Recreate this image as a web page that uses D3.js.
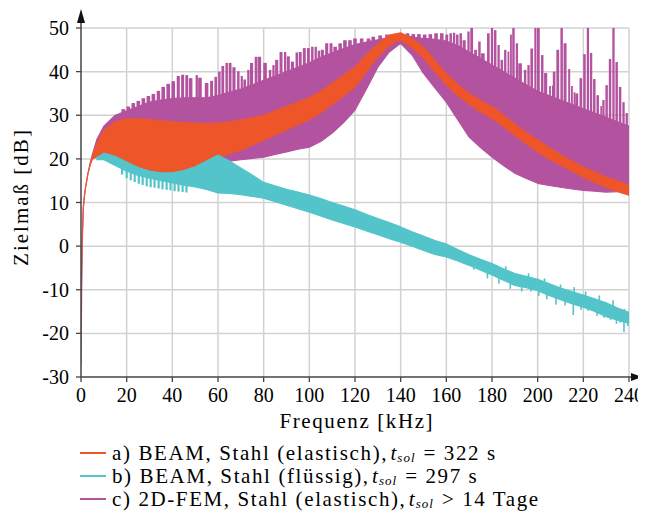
<!DOCTYPE html>
<meta charset="utf-8">
<svg width="638" height="504"></svg>
<script src="https://d3js.org/d3.v7.min.js"></script>
<script>
// frequency grid [kHz] for the band envelopes
var freq = [0, 0.3, 0.6, 1, 1.5, 2, 3, 4, 5, 7, 10,
  15, 20, 25, 30, 35, 40, 45, 50, 55, 60, 65, 70, 75, 80, 85, 90, 95, 100, 105, 110,
  115, 120, 125, 130, 135, 140, 145, 150, 155, 160, 165, 170, 175, 180, 185, 190, 195, 200, 205, 210,
  215, 220, 225, 230, 235, 240];

// a) BEAM, Stahl (elastisch)
var redHi = [-16, -4, 3, 8.7, 11.5, 13.5, 16.5, 18.7, 20.5, 23.5, 26.5,
  28.5, 29.2, 29.2, 29, 28.8, 28.5, 28.3, 28.2, 28.1, 28.2, 28.5, 28.9, 29.4, 30, 31, 32, 33, 34, 35.5, 37.3,
  39.2, 41, 43.8, 46.3, 48.4, 48.9, 47.6, 45.6, 42.5, 39.5, 37, 35, 33.3, 32, 30, 28, 26, 24.3, 22.6, 21,
  19.5, 18.1, 17, 15.8, 14.9, 14];
var redLo = [-16, -4, 3, 8.7, 11.5, 13.5, 16.5, 18.7, 20, 20.5, 20.3,
  19.5, 18.3, 17.3, 16.7, 16.3, 16.3, 16.8, 17.7, 18.8, 20.2, 21.2, 22, 23.2, 24.3, 25.5, 26.7, 27.9, 29, 30.6, 32.5,
  34.4, 36.5, 40, 43.4, 46, 47.3, 45.5, 43.2, 40, 37, 34.5, 32.5, 30.8, 29.3, 27.4, 25.4, 23.5, 21.6, 20, 18.6,
  17.2, 15.8, 14.6, 13.5, 12.5, 11.7];

// b) BEAM, Stahl (flüssig)
var cyanHi = [null, null, null, null, null, null, null, null, null, 20.3, 21.3,
  20.6, 19.3, 18, 17.2, 16.8, 16.8, 17.3, 18.2, 19.5, 20.9, 19.5, 17.9, 16.3, 14.6, 13.8, 13, 12.4, 11.7, 10.9, 10,
  9.2, 8.3, 7.3, 6.3, 5.4, 4.4, 3.3, 2.3, 1.3, 0.5, -0.8, -2, -3, -4, -5.2, -6.3, -6.9, -7.6, -8.6, -9.6,
  -10.4, -11.2, -12.1, -13, -14.2, -15.2];
var cyanLo = [null, null, null, null, null, null, null, null, null, 19.8, 19.8,
  18.5, 17.2, 16.2, 15.6, 15, 14.5, 14, 13.6, 13, 12.2, 12.1, 11.8, 11.4, 11, 10.2, 9.4, 8.6, 7.8, 6.9, 6,
  5.2, 4.4, 3.5, 2.6, 1.7, 0.9, 0, -1, -1.9, -2.5, -3.4, -4.4, -5.5, -6.6, -7.8, -9, -9.5, -10.2, -11.3, -12.3,
  -13.2, -14, -15, -16.2, -17, -17.7];
// downward teeth / dips of b)
var cyanSpikeF = [18, 20, 21.8, 23.5, 25.3, 27, 28.8, 30.5, 32.2, 34, 35.7, 37.5, 39.2, 41, 42.7, 44.5, 46.2,
  172, 178, 183, 188, 193, 197, 200.5, 204, 208, 212, 215.6, 219, 222, 226, 229, 232, 234.5, 236, 237.8, 239.5];
var cyanSpikeV = [16.4, 15.6, 15.1, 14.7, 14.3, 14, 13.7, 13.5, 13.4, 13.2, 13, 12.9, 12.8, 12.6, 12.5, 12.4, 12.3,
  -5.4, -7.4, -8.6, -9.8, -10.4, -10.4, -11.4, -12.2, -13.4, -13.6, -15.8, -14.6, -14.8, -16, -16.4, -16.9, -17.8, -17.5, -19.7, -18.3];
// upward jitter of b) on the right side
var cyanBumpF = [176, 186, 196, 203, 210, 216, 221, 227, 233, 238];
var cyanBumpV = [-3.2, -4.6, -6.2, -7.4, -8.8, -9.4, -10.4, -11.3, -12.4, -14.4];

// c) 2D-FEM, Stahl (elastisch)
var purpleHi = [-27, -10, 1, 8.7, 11.5, 13.5, 16.5, 19, 21, 24.5, 27.5,
  30, 31, 32, 33, 33.5, 33.8, 34, 34, 34, 34.5, 35.3, 36, 37, 38, 39, 40, 41, 42, 43.3, 44.3,
  45.3, 46.2, 46.8, 47.3, 47.8, 48.4, 48, 47.6, 47.4, 47, 46, 44.5, 43, 41.5, 40, 38.5, 37, 35.5, 34.5, 33.5,
  32.5, 31.5, 30.5, 29.5, 28.5, 27.5];
var purpleLo = [-27, -10, 1, 8.7, 11.5, 13.5, 16.5, 18.7, 20, 21, 21,
  20.5, 19.5, 19, 18.5, 18.5, 18.5, 18.8, 19.2, 19.5, 19.3, 19.5, 19.8, 20.1, 20.4, 21, 21.6, 22.2, 22.7, 24, 25.9,
  28.3, 31.2, 36, 41, 44.5, 46.5, 43.8, 39.6, 36.3, 33, 29, 25, 22.6, 20.4, 18.5, 16.7, 15.5, 14.4, 13.9, 13.5,
  13.1, 12.8, 12.6, 12.4, 12.5, 13.5];
// resonance peaks of c)
var purpleSpikeF = [18.5, 20.7, 22.9, 25.1, 27.3, 29.5, 31.7, 33.9, 36, 38.2, 40.4, 42.6, 44.5, 46.3, 48, 50.7,
  52.1, 55, 57.2, 59, 60.6, 62.1, 63.8, 65.3, 67, 68.9, 70.4, 71.7, 73.3, 74.7, 76.6, 78.1,
  80.6, 82.8, 84.3, 85.7, 87.6, 89.4, 90.8, 92.6, 94.5, 96, 97.8, 99.6, 101.3, 102.8, 104.2, 105.7,
  107.6, 109.5, 111.3, 113.5, 115.6, 117.8, 120, 122.9, 125.9, 128, 131, 134, 143, 145.5, 148, 150.5, 153, 155.5,
  158, 160.2, 161.9, 163.4, 164.8, 166.3, 167.8, 169.7, 171.1, 172.8, 174.5, 176, 178.4, 180, 181.4,
  182.9, 184.3, 185.8, 187.2, 188.3, 189.4, 190.9, 192.3, 194.5, 196, 197.4, 199, 200.3,
  202, 203.5, 205.4, 206.5, 207.2, 208.8, 210.5, 212, 213.8, 215, 216.1, 217.1, 218.9, 220.5, 222,
  223.4, 224.8, 226.3, 227.8, 228.8, 230.2, 231.7, 233.2, 234.6, 236.1, 237.6, 239];
var purpleSpikeV = [31.4, 32, 32.8, 33.3, 33.9, 34.4, 34.9, 35.6, 36.5, 37.2, 37.8, 39, 39.3, 39.2, 38.5, 39.2,
  38.6, 37.4, 37.9, 38.8, 40, 41.3, 42, 42, 41, 40.1, 39, 38.2, 40.4, 42, 43.4, 43.4,
  42, 40.4, 41.5, 42.7, 44.5, 44.5, 43.5, 42.3, 44.4, 44.5, 45.4, 45.4, 45.7, 45.7, 44.8, 45,
  46.5, 46.5, 45.7, 46.5, 47.2, 47.2, 47.6, 47.6, 47.6, 48, 48.3, 48.5, 48.8, 48.6, 48.6, 48.5, 48.6, 48.8,
  48.8, 48.5, 48.8, 48.9, 48.5, 48.8, 47.2, 49.2, 51, 45, 46.9, 44.2, 48.8, 51, 49.5,
  46.1, 42.7, 45, 44.6, 48.5, 51, 46.5, 41.9, 40.4, 41.5, 45.3, 51, 51,
  43.8, 39.7, 36.7, 36.8, 40, 45, 51, 46.5, 40.6, 36.7, 35.3, 35, 38.5, 44, 51,
  44.3, 38.3, 34.6, 32.1, 33.5, 36.9, 42.9, 51, 42.2, 36.5, 33, 30.5];

var xTicks = [0, 20, 40, 60, 80, 100, 120, 140, 160, 180, 200, 220, 240];
var yTicks = [-30, -20, -10, 0, 10, 20, 30, 40, 50];

var colRed = "#ee5629", colCyan = "#53c4ca", colPurple = "#b3529f";

// the page keeps its default 8px margin, so the drawing is shifted back by 8px
var svg = d3.select("svg").append("g").attr("transform", "translate(-8,-8)");

var x = d3.scaleLinear().domain([0, 240]).range([81, 629]);
var y = d3.scaleLinear().domain([-30, 50]).range([377, 28]);

// grid
svg.append("g").selectAll("line").data(xTicks.slice(1)).enter().append("line")
  .attr("x1", d => x(d)).attr("x2", d => x(d))
  .attr("y1", y(-30)).attr("y2", y(50))
  .attr("stroke", "#d2d2d2").attr("stroke-width", 1.5);
svg.append("g").selectAll("line").data(yTicks.slice(1)).enter().append("line")
  .attr("x1", x(0)).attr("x2", x(240))
  .attr("y1", d => y(d)).attr("y2", d => y(d))
  .attr("stroke", "#d2d2d2").attr("stroke-width", 1.5);

svg.append("clipPath").attr("id", "plot")
  .append("rect").attr("x", x(0)).attr("y", y(50)).attr("width", x(240) - x(0)).attr("height", y(-30) - y(50));

var data = svg.append("g").attr("clip-path", "url(#plot)");

function band(hi, lo, color) {
  var area = d3.area()
    .defined((d, i) => hi[i] != null)
    .x((d, i) => x(freq[i]))
    .y0((d, i) => y(lo[i]))
    .y1((d, i) => y(hi[i]));
  data.append("path")
    .datum(freq)
    .attr("d", area)
    .attr("fill", color)
    .attr("stroke", color)
    .attr("stroke-width", 1.2)
    .attr("stroke-linejoin", "round");
}

// bar width follows the spacing of neighbouring peaks
function barWidth(fs, i, share, maxW) {
  var j = i < fs.length - 1 ? i + 1 : i - 1;
  return Math.min(maxW, Math.abs(x(fs[j]) - x(fs[i])) * share);
}

// c) first, then a), b) on top
band(purpleHi, purpleLo, colPurple);
var purpleBase = d3.scaleLinear().domain(freq).range(purpleHi);
data.append("g").selectAll("rect").data(purpleSpikeF).enter().append("rect")
  .attr("x", (d, i) => x(d) - barWidth(purpleSpikeF, i, 0.72, 3.6) / 2)
  .attr("width", (d, i) => barWidth(purpleSpikeF, i, 0.72, 3.6))
  .attr("y", (d, i) => y(purpleSpikeV[i]))
  .attr("height", (d, i) => Math.max(0, y(purpleBase(d)) - y(purpleSpikeV[i]) + 2))
  .attr("fill", colPurple);

band(redHi, redLo, colRed);

band(cyanHi, cyanLo, colCyan);
var cFreq = freq.filter((f, i) => cyanLo[i] != null);
var cyanBase = d3.scaleLinear().domain(cFreq).range(cyanLo.filter(v => v != null));
var cyanTop = d3.scaleLinear().domain(cFreq).range(cyanHi.filter(v => v != null));
data.append("g").selectAll("rect").data(cyanSpikeF).enter().append("rect")
  .attr("x", (d, i) => x(d) - (i < 17 ? 1.1 : 0.8))
  .attr("width", (d, i) => i < 17 ? 2.2 : 1.6)
  .attr("y", d => y(cyanBase(d)) - 2)
  .attr("height", (d, i) => Math.max(0, y(cyanSpikeV[i]) - y(cyanBase(d)) + 2))
  .attr("fill", colCyan);
data.append("g").selectAll("rect").data(cyanBumpF).enter().append("rect")
  .attr("x", d => x(d) - 0.8)
  .attr("width", 1.6)
  .attr("y", (d, i) => y(cyanBumpV[i]))
  .attr("height", (d, i) => Math.max(0, y(cyanTop(d)) - y(cyanBumpV[i]) + 2))
  .attr("fill", colCyan);

// axes
var axisCol = "#444";
svg.append("line").attr("x1", x(0)).attr("x2", x(0)).attr("y1", y(-30)).attr("y2", 22)
  .attr("stroke", axisCol).attr("stroke-width", 1.5);
svg.append("path").attr("d", "M77,23 L81,9 L85,23 Z").attr("fill", "#111");
svg.append("line").attr("x1", x(0)).attr("x2", 632).attr("y1", y(-30)).attr("y2", y(-30))
  .attr("stroke", axisCol).attr("stroke-width", 1.5);
svg.append("path").attr("d", "M631,373 L642,377 L631,381 Z").attr("fill", "#111");

svg.append("g").selectAll("line").data(yTicks).enter().append("line")
  .attr("x1", x(0) - 5).attr("x2", x(0))
  .attr("y1", d => y(d)).attr("y2", d => y(d))
  .attr("stroke", axisCol).attr("stroke-width", 1.3);
svg.append("g").selectAll("line").data(xTicks).enter().append("line")
  .attr("x1", d => x(d)).attr("x2", d => x(d))
  .attr("y1", y(-30)).attr("y2", y(-30) + 5)
  .attr("stroke", axisCol).attr("stroke-width", 1.3);

var serif = "'Liberation Serif'";

svg.append("g").selectAll("text").data(yTicks).enter().append("text")
  .style("font-family", serif)
  .attr("font-size", 20)
  .attr("x", 69).attr("y", d => y(d)).attr("dy", "0.35em")
  .attr("text-anchor", "end")
  .text(d => d);
svg.append("g").selectAll("text").data(xTicks).enter().append("text")
  .style("font-family", serif)
  .attr("font-size", 20)
  .attr("x", d => x(d)).attr("y", 402)
  .attr("text-anchor", "middle")
  .text(d => d);

// tracking by per-glyph dx
function tracked(str, sp, first) {
  var dx = [first];
  for (var i = 1; i < str.length; i++) dx.push(sp);
  return dx.join(" ");
}

svg.append("text")
  .style("font-family", serif).attr("font-size", 21)
  .attr("transform", "translate(28,198) rotate(-90)")
  .attr("text-anchor", "middle")
  .attr("dx", tracked("Zielmaß [dB]", 2, 0))
  .text("Zielmaß [dB]");
svg.append("text")
  .style("font-family", serif).attr("font-size", 21)
  .attr("x", 356).attr("y", 428)
  .attr("text-anchor", "middle")
  .attr("dx", tracked("Frequenz [kHz]", 1.6, 0))
  .text("Frequenz [kHz]");

// legend
var legendLabels = ["a) BEAM, Stahl (elastisch),", "b) BEAM, Stahl (flüssig),", "c) 2D-FEM, Stahl (elastisch),"];
var legendTimes = ["= 322 s", "= 297 s", "> 14 Tage"];
var legendColors = [colRed, colCyan, colPurple];

var leg = svg.append("g").selectAll("g").data(legendLabels).enter().append("g")
  .attr("transform", (d, i) => "translate(0," + (453 + i * 23) + ")");
leg.append("line").attr("x1", 80).attr("x2", 106).attr("y1", 0).attr("y2", 0)
  .attr("stroke", (d, i) => legendColors[i]).attr("stroke-width", 2);
var lt = leg.append("text")
  .style("font-family", serif).attr("font-size", 21)
  .attr("x", 112).attr("y", 7);
lt.append("tspan").attr("dx", d => tracked(d, 1.6, 0)).text(d => d);
lt.append("tspan").attr("dx", 4).attr("font-style", "italic").text("t");
lt.append("tspan").attr("font-style", "italic").attr("font-size", 13).attr("dy", 2)
  .attr("dx", tracked("sol", 1, 1)).text("sol");
lt.append("tspan").attr("dy", -2)
  .attr("dx", (d, i) => tracked(legendTimes[i], 1.6, 9)).text((d, i) => legendTimes[i]);
</script>
